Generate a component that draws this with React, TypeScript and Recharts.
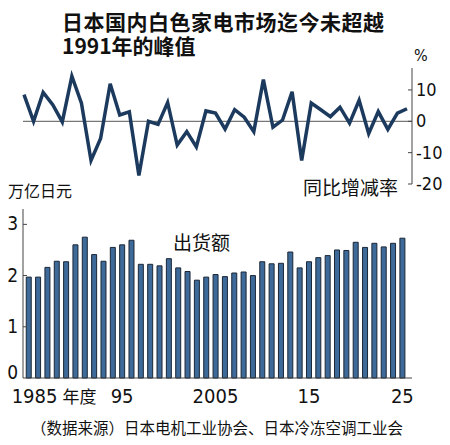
import React from 'react';
import { BarChart, Bar, LineChart, Line, XAxis, YAxis, ReferenceLine } from 'recharts';

const years = [
  '1985', '1986', '1987', '1988', '1989', '1990', '1991', '1992', '1993', '1994',
  '1995', '1996', '1997', '1998', '1999', '2000', '2001', '2002', '2003', '2004',
  '2005', '2006', '2007', '2008', '2009', '2010', '2011', '2012', '2013', '2014',
  '2015', '2016', '2017', '2018', '2019', '2020', '2021', '2022', '2023', '2024',
  '2025',
];

// 出货额 (万亿日元)
const shipments = [
  1.97, 1.97, 2.16, 2.28, 2.27, 2.6, 2.75, 2.41, 2.28, 2.55,
  2.6, 2.69, 2.22, 2.22, 2.19, 2.33, 2.15, 2.08, 1.91, 1.97,
  2.02, 1.98, 2.05, 2.07, 2.0, 2.27, 2.23, 2.24, 2.46, 2.15,
  2.27, 2.35, 2.39, 2.5, 2.49, 2.65, 2.55, 2.63, 2.56, 2.63,
  2.73,
];

// 同比增减率 (%)
const growth = [
  8.5, 0, 9.2, 5.3, -0.2, 14.4, 5.8, -12.5, -5.5, 12,
  2, 3, -17.3, 0, -1, 6, -7.6, -3.3, -8.2, 3.3,
  2.6, -2.5, 3.7, 1.3, -3.3, 13.3, -1.9, 0.4, 9.4, -12.5,
  5.8, 3.7, 1.5, 4.5, -0.6, 6.7, -3.9, 3.1, -2.6, 2.6,
  4,
];

const growthTicks = [-20, -10, 0, 10];
const shipmentTicks = [0, 1, 2, 3];
const yearTicks = ['1985', '1995', '2005', '2015', '2025'];

const data = years.map((year, i) => ({ year, shipment: shipments[i], growth: growth[i] }));

const NUM_FONT = '"Liberation Sans Narrow", "DejaVu Sans Condensed", "Liberation Sans", sans-serif';
const CJK_FONT = '"Noto Sans CJK SC", "Noto Sans", sans-serif';
const AXIS = '#444';
const TEXT = '#111';

const RightTick = (props: any) => {
  const { x, y, payload } = props;
  return (
    <g>
      <line x1={x - 8} x2={x - 4} y1={y} y2={y} stroke={AXIS} strokeWidth={1} />
      <text x={x} y={y} dy={6} fontSize={18} fontFamily={NUM_FONT} fill={TEXT} textAnchor="start">
        {payload.value}
      </text>
    </g>
  );
};

const LeftTick = (props: any) => {
  const { x, y, payload } = props;
  // the "0" label sits a little above the baseline
  const shift = payload.value === 0 ? -5 : 0;
  return (
    <g>
      {payload.value !== 0 && (
        <line x1={x + 5} x2={x + 9} y1={y} y2={y} stroke={AXIS} strokeWidth={1} />
      )}
      <text x={x} y={y + shift} dy={6} fontSize={19} fontFamily={NUM_FONT} fill={TEXT} textAnchor="end">
        {payload.value}
      </text>
    </g>
  );
};

const BottomTick = (props: any) => {
  const { x, y, payload } = props;
  const v: string = payload.value;
  if (v === '1985') {
    return (
      <text x={x - 17} y={y + 25} fontSize={20} fontFamily={NUM_FONT} fill={TEXT} textAnchor="start">
        <tspan>1985</tspan>
        <tspan dx={5} fontFamily={CJK_FONT} fontSize={17}>年度</tspan>
      </text>
    );
  }
  const text = v === '2005' ? v : v.slice(2);
  return (
    <text x={x} y={y + 25} fontSize={20} fontFamily={NUM_FONT} fill={TEXT} textAnchor="middle">
      {text}
    </text>
  );
};

const label = (left: number, top: number, size: number, text: string, extra: React.CSSProperties = {}) => (
  <div
    style={{
      position: 'absolute',
      left,
      top,
      fontSize: size,
      lineHeight: 1,
      fontFamily: CJK_FONT,
      color: TEXT,
      whiteSpace: 'nowrap',
      ...extra,
    }}
  >
    {text}
  </div>
);

export default function App() {
  const titleStyle: React.CSSProperties = { fontSize: 21, fontWeight: 700 };
  return (
    <div style={{ position: 'absolute', left: 0, top: 0, width: 450, height: 445, background: '#fff', overflow: 'hidden' }}>
      {label(62, 11, 21, '日本国内白色家电市场迄今未超越', { ...titleStyle, letterSpacing: 0.5 })}
      {label(62, 35, 21, '1991年的峰值', titleStyle)}

      <div style={{ position: 'absolute', left: 0, top: 0 }}>
        <LineChart width={450} height={200} data={data} margin={{ top: 68, right: 0, bottom: 16, left: 23 }}>
          <XAxis dataKey="year" hide padding={{ left: 1, right: 5 }} />
          <YAxis
            orientation="right"
            width={38}
            domain={[-20, 17]}
            ticks={growthTicks}
            interval={0}
            tickSize={0}
            tickMargin={4}
            tick={<RightTick />}
            axisLine={{ stroke: AXIS, strokeWidth: 1 }}
            tickLine={false}
          />
          <ReferenceLine y={0} stroke="#555" strokeWidth={1} />
          <Line
            type="linear"
            dataKey="growth"
            stroke="#1c3a5e"
            strokeWidth={3.5}
            dot={false}
            isAnimationActive={false}
          />
        </LineChart>
      </div>

      {label(414, 48, 16, '%', { fontFamily: NUM_FONT })}
      {label(303, 177, 19, '同比增减率')}
      {label(8, 182, 16, '万亿日元')}
      {label(173, 232, 19, '出货额')}

      <div style={{ position: 'absolute', left: 0, top: 200 }}>
        <BarChart
          width={450}
          height={231}
          data={data}
          margin={{ top: 9, right: 38, bottom: 0, left: 0 }}
          barCategoryGap="24%"
        >
          <XAxis
            dataKey="year"
            height={53}
            padding={{ left: 1, right: 5 }}
            ticks={yearTicks}
            interval={0}
            tickSize={0}
            tickMargin={0}
            tick={<BottomTick />}
            axisLine={{ stroke: AXIS, strokeWidth: 1 }}
            tickLine={false}
          />
          <YAxis
            width={23}
            domain={[0, 3.3]}
            ticks={shipmentTicks}
            interval={0}
            tickSize={0}
            tickMargin={5}
            tick={<LeftTick />}
            axisLine={{ stroke: AXIS, strokeWidth: 1 }}
            tickLine={false}
          />
          <Bar dataKey="shipment" fill="#3d6a98" stroke="#1b2636" strokeWidth={1} isAnimationActive={false} />
        </BarChart>
      </div>

      {label(31, 420, 15.5, '（数据来源）日本电机工业协会、日本冷冻空调工业会')}
    </div>
  );
}
